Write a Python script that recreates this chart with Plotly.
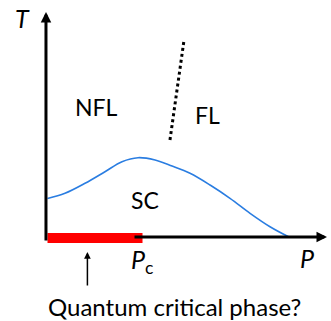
import plotly.graph_objects as go

# Superconducting dome (P, T) in arbitrary units
sc_P = [0.0, 0.184, 0.395, 0.605, 0.784, 0.953, 1.132, 1.311, 1.500, 1.711, 1.921, 2.132, 2.342, 2.542]
sc_T = [0.385, 0.437, 0.537, 0.653, 0.753, 0.793, 0.770, 0.710, 0.637, 0.520, 0.387, 0.237, 0.103, 0.0]

# NFL / FL crossover (dotted)
cross_P = [1.289, 1.437]
cross_T = [0.97, 1.97]

# Quantum critical phase segment
qc_P = [0.0, 1.0]
qc_T = [-0.01, -0.01]

FONT = "Lato"

fig = go.Figure()
fig.add_trace(go.Scatter(x=qc_P, y=qc_T, mode="lines",
                         line=dict(color="#ff0000", width=10), hoverinfo="skip"))
fig.add_trace(go.Scatter(x=sc_P, y=sc_T, mode="lines", line_shape="spline",
                         line=dict(color="#2a7de1", width=1.6), hoverinfo="skip"))
fig.add_trace(go.Scatter(x=cross_P, y=cross_T, mode="lines",
                         line=dict(color="black", width=3, dash="dot"), hoverinfo="skip"))

ann = []
# axes arrows
ann.append(dict(x=-0.016, y=2.25, ax=-0.016, ay=-0.05, xref="x", yref="y", axref="x", ayref="y",
                showarrow=True, arrowhead=2, arrowsize=0.7, arrowwidth=3, arrowcolor="black", text=""))
ann.append(dict(x=2.942, y=0.0, ax=0.9, ay=0.0, xref="x", yref="y", axref="x", ayref="y",
                showarrow=True, arrowhead=2, arrowsize=0.7, arrowwidth=3, arrowcolor="black", text=""))
# small pointer arrow
ann.append(dict(x=0.42, y=-0.15, ax=0.42, ay=-0.50, xref="x", yref="y", axref="x", ayref="y",
                showarrow=True, arrowhead=2, arrowsize=0.9, arrowwidth=1.5, arrowcolor="black", text=""))

labels = [
    ("<i>T</i>", -0.26, 2.19, 25),
    ("NFL", 0.515, 1.30, 23),
    ("FL", 1.685, 1.22, 23),
    ("SC", 1.03, 0.37, 23),
    ("<i>P</i>", 2.73, -0.21, 25),
    ("<i>P</i><sub>c</sub>", 0.99, -0.24, 25),
    ("Quantum critical phase?", 1.34, -0.69, 24),
]
for t, x, y, s in labels:
    ann.append(dict(x=x, y=y, xref="x", yref="y", text=t, showarrow=False,
                    font=dict(family=FONT, size=s, color="black"),
                    xanchor="center", yanchor="middle"))

fig.update_layout(
    width=331, height=321,
    margin=dict(l=0, r=0, t=0, b=0),
    paper_bgcolor="white", plot_bgcolor="white",
    showlegend=False,
    xaxis=dict(range=[-0.5, 2.984], visible=False, fixedrange=True),
    yaxis=dict(range=[-0.84, 2.37], visible=False, fixedrange=True),
    annotations=ann,
)
fig.write_html("out.html", config={"displayModeBar": False},
               post_script="document.body.style.margin='0';document.body.style.overflow='hidden';")
